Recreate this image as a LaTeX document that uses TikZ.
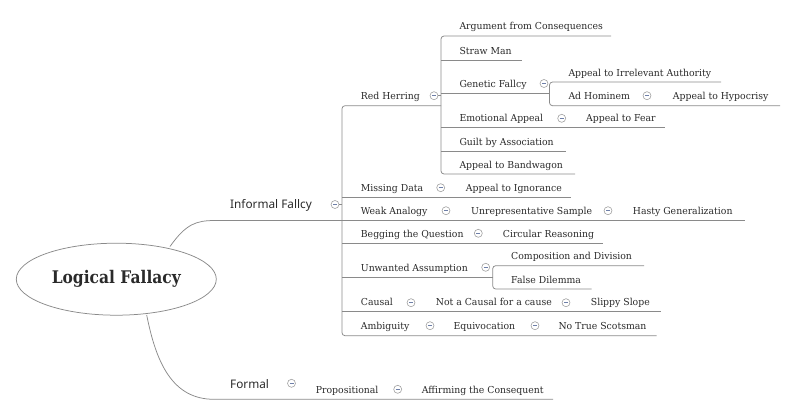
\documentclass[tikz,border=0pt]{standalone}
\usepackage{fontspec}
\usetikzlibrary{shapes.geometric}
\newfontfamily\slab[FakeStretch=0.97]{DejaVu Serif}
\newfontfamily\slabroot[FakeStretch=0.89]{DejaVu Serif}
\newfontfamily\sans{Noto Sans}
\definecolor{txt}{HTML}{2A2A2A}
\definecolor{ln}{HTML}{8A8A8A}
\definecolor{cb}{HTML}{A0A0A0}
\definecolor{mn}{HTML}{6E7FA8}
\begin{document}
\begin{tikzpicture}[x=1pt,y=-1pt,
  leaf/.style={anchor=base west,inner sep=0pt,text=txt,font=\slab\fontsize{9.6}{11}\selectfont},
  topic/.style={anchor=base west,inner sep=0pt,text=txt,font=\sans\fontsize{11.8}{13}\selectfont},
  cbtn/.style={circle,draw=cb,line width=0.6pt,minimum size=8pt,inner sep=0pt,
    path picture={\draw[mn,line width=0.7pt] ([xshift=-2pt]path picture bounding box.center) -- ([xshift=2pt]path picture bounding box.center);}},
  conn/.style={draw=ln,line width=0.75pt},
  rc/.style={conn,rounded corners=3pt}]
\useasboundingbox (0,0) rectangle (796,415);

% root
\node[ellipse,draw=ln,line width=0.75pt,minimum width=200pt,minimum height=72pt,inner sep=0pt,
  text=txt,font=\slabroot\bfseries\fontsize{17.4}{20}\selectfont] (root) at (116.3,279.2) {Logical Fallacy};

% main topics
\node[topic] (inf) at (230,208.7) {Informal Fallcy};
\node[cbtn] (cinf) at (335,204.5) {};
\node[topic] (frm) at (230,388) {Formal};
\node[cbtn] (cfrm) at (291.5,383.3) {};

\coordinate (infa) at (170,246.5);
\coordinate (infb) at (215,220.5);
\coordinate (frma) at (146.7,315);
\coordinate (frmb) at (214,399.3);
\draw[conn] (infa) .. controls (186,224) and (196,220.5) .. (infb) -- (342,220.5);
\draw[conn] (frma) .. controls (156,362) and (172,399.3) .. (frmb) -- (553,399.3);
\draw[conn] (cinf.east) -- (342,204.5);

% informal bar
\draw[rc] (441,105.7) -- (342,105.7) -- (342,335.7) -- (656.7,335.7);

% Red Herring
\node[leaf] (rh) at (360.7,99.7) {Red Herring};
\node[cbtn] (crh) at (434,95.7) {};
\draw[conn] (crh.east) -- (441,95.7);
\draw[rc] (611,36) -- (441,36) -- (441,174) -- (575,174);
\node[leaf] (afc) at (459.3,30) {Argument from Consequences};
\draw[conn] (441,60) -- (522,60);
\node[leaf] (sm) at (459.3,54) {Straw Man};
\draw[conn] (441,93.5) -- (549.5,93.5);
\node[leaf] (gf) at (459.3,87.5) {Genetic Fallcy};
\node[cbtn] (cgf) at (544,83.5) {};
\draw[rc] (721,82) -- (549.5,82) -- (549.5,105.7) -- (780,105.7);
\node[leaf] (aia) at (568.3,76) {Appeal to Irrelevant Authority};
\node[leaf] (ah) at (568.3,99.7) {Ad Hominem};
\node[cbtn] (cah) at (647,95.7) {};
\node[leaf] (ahy) at (672.7,99.7) {Appeal to Hypocrisy};
\draw[conn] (441,127.7) -- (665,127.7);
\node[leaf] (ea) at (459.3,121.7) {Emotional Appeal};
\node[cbtn] (cea) at (561.7,118.3) {};
\node[leaf] (af) at (586,121.7) {Appeal to Fear};
\draw[conn] (441,151) -- (566,151);
\node[leaf] (gba) at (459.3,145) {Guilt by Association};
\node[leaf] (ab) at (459.3,168) {Appeal to Bandwagon};

% Missing Data
\draw[conn] (342,197.7) -- (571,197.7);
\node[leaf] (md) at (360.7,191.7) {Missing Data};
\node[cbtn] (cmd) at (440.7,187.7) {};
\node[leaf] (ai) at (465.7,191.7) {Appeal to Ignorance};

% Weak Analogy
\draw[conn] (342,220.5) -- (745,220.5);
\node[leaf] (wa) at (360.7,214.5) {Weak Analogy};
\node[cbtn] (cwa) at (446,210.7) {};
\node[leaf] (us) at (471,214.5) {Unrepresentative Sample};
\node[cbtn] (cus) at (608,210.7) {};
\node[leaf] (hg) at (632.7,214.5) {Hasty Generalization};

% Begging the Question
\draw[conn] (342,243.3) -- (603,243.3);
\node[leaf] (bq) at (360.7,237.3) {Begging the Question};
\node[cbtn] (cbq) at (478.3,233.3) {};
\node[leaf] (cr) at (502.7,237.3) {Circular Reasoning};

% Unwanted Assumption
\draw[conn] (342,277.3) -- (492.7,277.3);
\node[leaf] (ua) at (360.7,271.3) {Unwanted Assumption};
\node[cbtn] (cua) at (485.7,267.3) {};
\draw[rc] (644,265.7) -- (492.7,265.7) -- (492.7,289) -- (591.7,289);
\node[leaf] (cd) at (511,259.7) {Composition and Division};
\node[leaf] (fd) at (511,283) {False Dilemma};

% Causal
\draw[conn] (342,311.7) -- (660.7,311.7);
\node[leaf] (ca) at (360.7,305.7) {Causal};
\node[cbtn] (cca) at (411,302.7) {};
\node[leaf] (nc) at (435.7,305.7) {Not a Causal for a cause};
\node[cbtn] (cnc) at (566,302.7) {};
\node[leaf] (ss) at (590.7,305.7) {Slippy Slope};

% Ambiguity
\node[leaf] (am) at (360.7,329.7) {Ambiguity};
\node[cbtn] (cam) at (430,325.7) {};
\node[leaf] (eq) at (453.3,329.7) {Equivocation};
\node[cbtn] (ceq) at (535,325.7) {};
\node[leaf] (nts) at (558.3,329.7) {No True Scotsman};

% Formal
\node[leaf] (pr) at (315.7,393) {Propositional};
\node[cbtn] (cpr) at (397.7,389.3) {};
\node[leaf] (ac) at (421.7,393) {Affirming the Consequent};
\end{tikzpicture}
\end{document}
